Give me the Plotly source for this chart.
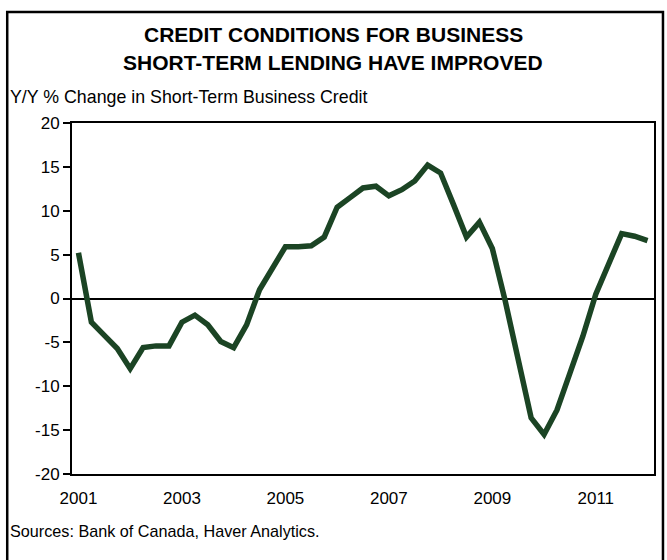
import plotly.graph_objects as go

quarters = [
    "2001Q1", "2001Q2", "2001Q3", "2001Q4",
    "2002Q1", "2002Q2", "2002Q3", "2002Q4",
    "2003Q1", "2003Q2", "2003Q3", "2003Q4",
    "2004Q1", "2004Q2", "2004Q3", "2004Q4",
    "2005Q1", "2005Q2", "2005Q3", "2005Q4",
    "2006Q1", "2006Q2", "2006Q3", "2006Q4",
    "2007Q1", "2007Q2", "2007Q3", "2007Q4",
    "2008Q1", "2008Q2", "2008Q3", "2008Q4",
    "2009Q1", "2009Q2", "2009Q3", "2009Q4",
    "2010Q1", "2010Q2", "2010Q3", "2010Q4",
    "2011Q1", "2011Q2", "2011Q3", "2011Q4",
    "2012Q1",
]
credit_yoy = [
    5.2, -2.7, -4.2, -5.7,
    -8.0, -5.6, -5.4, -5.4,
    -2.7, -1.9, -3.0, -4.9,
    -5.6, -3.0, 1.0, 3.4,
    5.9, 5.9, 6.0, 7.0,
    10.4, 11.5, 12.6, 12.8,
    11.7, 12.4, 13.4, 15.2,
    14.3, 10.7, 7.0, 8.7,
    5.7, -0.3, -6.7, -13.6,
    -15.5, -12.7, -8.5, -4.3,
    0.5, 4.0, 7.4, 7.1,
    6.6,
]
tick_quarters = ["2001Q1", "2003Q1", "2005Q1", "2007Q1", "2009Q1", "2011Q1"]
tick_labels = ["2001", "2003", "2005", "2007", "2009", "2011"]
y_tick_values = [-20, -15, -10, -5, 0, 5, 10, 15, 20]
y_tick_labels = ["-20", "-15", "-10", "-5", "0", "5", "10", "15", "20"]

x_idx = list(range(len(quarters)))
tick_idx = [quarters.index(q) for q in tick_quarters]

FONT = "Liberation Sans, Arial, sans-serif"

fig = go.Figure()
fig.add_trace(go.Scatter(
    x=x_idx, y=credit_yoy, mode="lines",
    line=dict(color="#1b4424", width=5.5),
    hoverinfo="skip", showlegend=False,
))

fig.update_layout(
    width=667, height=560,
    margin=dict(l=72, r=11, t=123, b=86),
    paper_bgcolor="white", plot_bgcolor="white",
    font=dict(family=FONT, size=16, color="black"),
    showlegend=False,
)
fig.update_xaxes(
    range=[-0.5, 44.5], tickvals=tick_idx, ticktext=tick_labels,
    showgrid=False, zeroline=False,
    showline=True, linecolor="black", linewidth=2, mirror=True,
    ticks="outside", ticklen=8, tickcolor="rgba(0,0,0,0)",
    tickfont=dict(family=FONT, size=17, color="black"),
)
fig.update_yaxes(
    range=[-20, 20], tickvals=y_tick_values, ticktext=y_tick_labels,
    showgrid=False, zeroline=True, zerolinecolor="black", zerolinewidth=2,
    showline=True, linecolor="black", linewidth=2, mirror=True,
    ticks="outside", ticklen=7, tickwidth=2, tickcolor="black",
    tickfont=dict(family=FONT, size=17, color="black"),
)

pw, ph = 584.0, 351.0
def px(x):
    return (x - 72) / pw
def py(y):
    return (474 - y) / ph

fig.add_shape(type="rect", xref="paper", yref="paper",
              x0=px(7), x1=px(665), y0=py(575), y1=py(12),
              line=dict(color="black", width=2.5), fillcolor="rgba(0,0,0,0)",
              layer="above")

fig.add_annotation(text="<b>CREDIT CONDITIONS FOR BUSINESS</b>",
                   xref="paper", yref="paper", x=px(334), y=py(35),
                   xanchor="center", yanchor="middle", showarrow=False,
                   font=dict(family=FONT, size=21, color="black"))
fig.add_annotation(text="<b>SHORT-TERM LENDING HAVE IMPROVED</b>",
                   xref="paper", yref="paper", x=px(334), y=py(62),
                   xanchor="center", yanchor="middle", showarrow=False,
                   font=dict(family=FONT, size=21, color="black"))
fig.add_annotation(text="Y/Y % Change in Short-Term Business Credit",
                   xref="paper", yref="paper", x=px(8), y=py(97),
                   xanchor="left", yanchor="middle", showarrow=False,
                   font=dict(family=FONT, size=17.8, color="black"))
fig.add_annotation(text="Sources: Bank of Canada, Haver Analytics.",
                   xref="paper", yref="paper", x=px(8), y=py(531),
                   xanchor="left", yanchor="middle", showarrow=False,
                   font=dict(family=FONT, size=16.2, color="black"))

fig.write_html("out.html", config={"displayModeBar": False},
               post_script="document.body.style.margin='0';")
